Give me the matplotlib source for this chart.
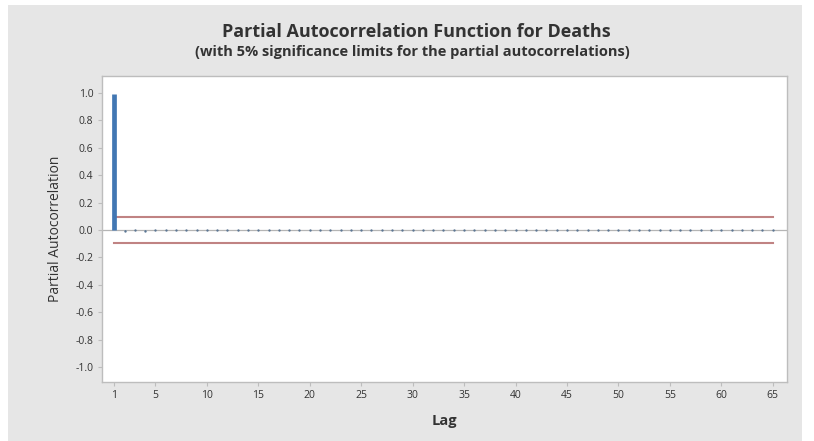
import matplotlib.pyplot as plt
import matplotlib.patches as mpatches

plt.rcParams['font.family'] = ['Open Sans', 'DejaVu Sans']

# data
lags = list(range(1, 66))
pacf = [0.99, -0.004, -0.003, -0.004, 0.003, -0.003, 0.002, -0.002, 0.001, -0.003,
        0.001, -0.002, 0.002, -0.003, -0.003, 0.002, -0.003, 0.001, -0.002, -0.003,
        0.001, -0.002, 0.002, -0.001, -0.003, -0.003, 0.002, -0.003, -0.003, 0.001,
        -0.002, -0.003, -0.002, -0.003, 0.001, 0.001, -0.003, -0.003, 0.002, -0.002,
        -0.003, 0.001, -0.002, 0.001, 0.001, 0.001, -0.002, -0.003, 0.002, -0.002,
        -0.003, -0.002, -0.002, -0.003, -0.003, -0.002, -0.003, -0.002, 0.002, -0.002,
        -0.002, 0.001, -0.002, -0.003, -0.002]
sig_limit = 0.095
xticks = [1, 5, 10, 15, 20, 25, 30, 35, 40, 45, 50, 55, 60, 65]
yticks = [1.0, 0.8, 0.6, 0.4, 0.2, 0.0, -0.2, -0.4, -0.6, -0.8, -1.0]

c_bg = '#e6e6e6'
c_blue = '#4277b3'
c_red = '#c08383'
c_frame = '#bdbdbd'
c_text = '#333333'

fig = plt.figure(figsize=(8.14, 4.41), dpi=100, facecolor='white')
# grey panel behind the plot
fig.patches.append(mpatches.Rectangle((8 / 814, 0), 794 / 814, 436 / 441,
                                      transform=fig.transFigure, facecolor=c_bg,
                                      edgecolor='none', zorder=-5))

ax = fig.add_axes([0.1249, 0.1345, 0.8416, 0.6932])
ax.set_facecolor('white')

# zero line
ax.axhline(0, color='#b5b5b5', lw=0.9, zorder=1)

# significance limits
ax.plot([lags[0], lags[-1]], [sig_limit, sig_limit], color=c_red, lw=1.5, zorder=2)
ax.plot([lags[0], lags[-1]], [-sig_limit, -sig_limit], color=c_red, lw=1.5, zorder=2)

# lag 1 bar, then the rest as small stems with dots
ax.vlines(lags[0], 0, pacf[0], color=c_blue, lw=3.4, zorder=3)
ax.vlines(lags[1:], 0, pacf[1:], color=c_blue, lw=1.0, zorder=3)
ax.plot(lags[1:], pacf[1:], 'o', color='#5c7794', ms=1.7, mec='none', zorder=3)

ax.set_xlim(-0.22, 66.36)
ax.set_ylim(-1.107, 1.124)
ax.set_xticks(xticks)
ax.set_yticks(yticks)
ax.set_yticklabels([f'{v:.1f}' for v in yticks])

for s in ax.spines.values():
    s.set_color(c_frame)
    s.set_linewidth(1.0)
ax.tick_params(axis='both', colors=c_frame, labelcolor=c_text, labelsize=7.5,
               length=3, width=0.8, pad=3)

ax.set_ylabel('Partial Autocorrelation', fontsize=10, color=c_text, labelpad=9)
ax.set_xlabel('Lag', fontsize=10.5, fontweight='bold', color=c_text, labelpad=9)

fig.text(0.512, 0.927, 'Partial Autocorrelation Function for Deaths',
         ha='center', va='center', fontsize=13, fontweight='bold', color=c_text)
fig.text(0.507, 0.882, '(with 5% significance limits for the partial autocorrelations)',
         ha='center', va='center', fontsize=10.5, fontweight='bold', color=c_text)

fig.savefig('out.png', dpi=100, facecolor='white')
